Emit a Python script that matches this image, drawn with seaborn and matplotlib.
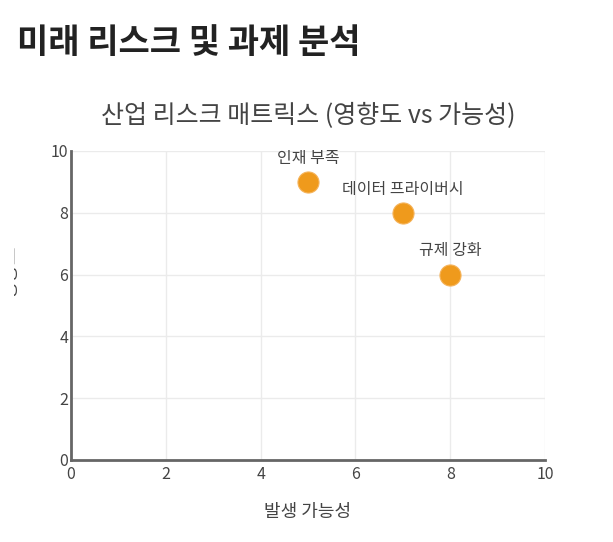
import matplotlib
matplotlib.use("Agg")
import matplotlib.pyplot as plt
import seaborn as sns
import pandas as pd
from matplotlib.transforms import Bbox, TransformedBbox

# Data
risks = ["인재 부족", "데이터 프라이버시", "규제 강화"]
likelihood = [5, 7, 8]
impact = [9, 8, 6]
ticks = [0, 2, 4, 6, 8, 10]

df = pd.DataFrame({"risk": risks, "likelihood": likelihood, "impact": impact})

sns.set_style("white")
plt.rcParams["font.family"] = ["Noto Sans CJK KR", "DejaVu Sans"]

fig = plt.figure(figsize=(6.13, 5.42), dpi=100)
ax = fig.add_axes([71 / 613, 82 / 542, 474 / 613, 309 / 542])

sns.scatterplot(data=df, x="likelihood", y="impact", ax=ax,
                color="#EF9A1C", s=230, edgecolor="#F5B35A", linewidth=0.8,
                zorder=3, clip_on=False)

for _, row in df.iterrows():
    ax.annotate(row["risk"], (row["likelihood"], row["impact"]),
                xytext=(0, 11), textcoords="offset points",
                ha="center", va="bottom", fontsize=11.5, color="#444444")

ax.set_xlim(0, 10)
ax.set_ylim(0, 10)
ax.set_xticks(ticks)
ax.set_yticks(ticks)
ax.grid(True, color="#ebebeb", linewidth=1)
ax.set_axisbelow(True)
for side in ["top", "right"]:
    ax.spines[side].set_visible(False)
for side in ["left", "bottom"]:
    ax.spines[side].set_color("#666666")
    ax.spines[side].set_linewidth(2)
ax.tick_params(axis="x", length=0, labelsize=11.5, labelcolor="#444444", pad=4)
ax.tick_params(axis="y", length=0, labelsize=11.5, labelcolor="#444444", pad=2)

ax.set_xlabel("발생 가능성", fontsize=13, color="#444444", labelpad=15)
ax.set_ylabel("")

# clipped y label as in the reference
t = fig.text(20 / 613, 0.5, "영향도", rotation=90, ha="right", va="center",
             fontsize=14, color="#444444")
t.set_clip_box(TransformedBbox(Bbox([[14 / 613, 0.3], [20 / 613, 0.7]]),
                               fig.transFigure))
t.set_clip_on(True)

ax.set_title("산업 리스크 매트릭스 (영향도 vs 가능성)", fontsize=18,
             color="#444444", pad=20)
fig.text(17 / 613, 1 - 42 / 542, "미래 리스크 및 과제 분석", fontsize=24.5,
         fontweight="bold", color="#222222", va="center", ha="left")

fig.savefig("out.png", dpi=100)
